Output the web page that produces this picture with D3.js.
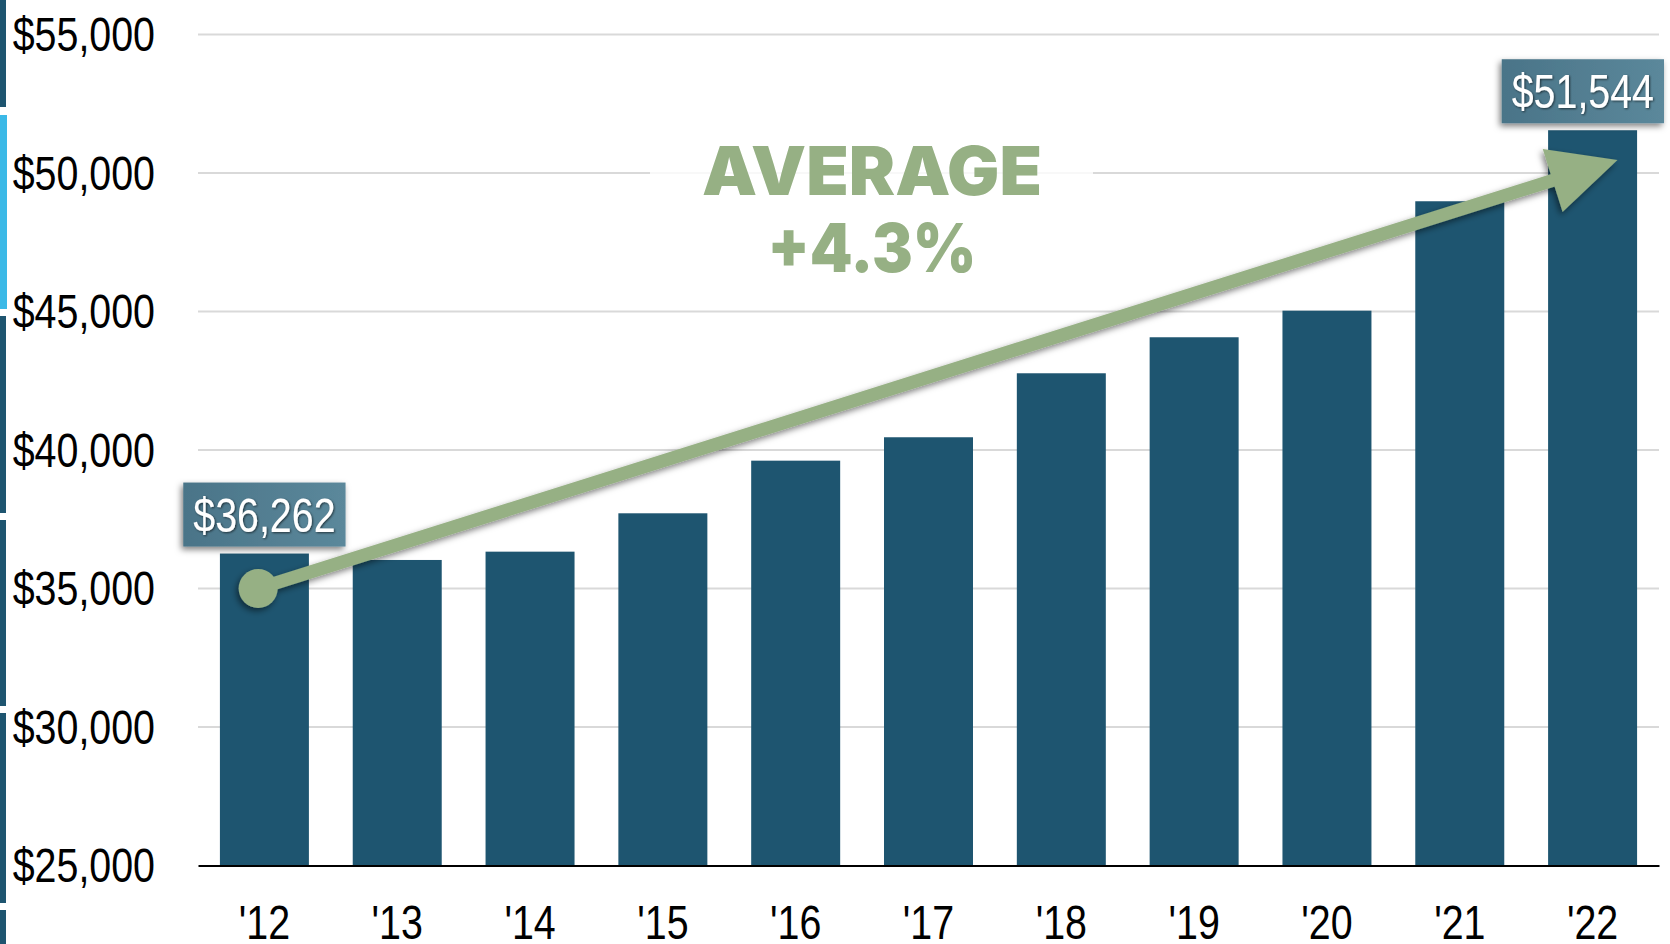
<!DOCTYPE html>
<html>
<head>
<meta charset="utf-8">
<script src="https://cdn.jsdelivr.net/npm/d3@7"></script>
<style>
  html, body { margin: 0; padding: 0; background: #fff; }
  svg { display: block; }
</style>
</head>
<body>
<svg id="chart" width="1670" height="944"></svg>
<script>
// median household income by year
var years = ["'12", "'13", "'14", "'15", "'16", "'17", "'18", "'19", "'20", "'21", "'22"];
var incomes = [36262, 36030, 36330, 37715, 39615, 40460, 42770, 44070, 45030, 48980, 51544];
var yTicks = [25000, 30000, 35000, 40000, 45000, 50000, 55000];
var calloutYears = ["'12", "'22"];
var avgLines = ["AVERAGE", "+4.3%"];

var W = 1670, H = 944;
var svg = d3.select("#chart");
var narrow = "'Liberation Sans Narrow', 'Arial Narrow', 'Liberation Sans', Arial, sans-serif";

// no narrow face installed, so squeeze the regular one
function condense(sel) {
    sel.each(function () {
        var w = this.getComputedTextLength();
        d3.select(this)
            .attr("textLength", w * 0.82)
            .attr("lengthAdjust", "spacingAndGlyphs");
    });
}

var x = d3.scaleBand()
    .domain(years)
    .range([198, 1659])
    .paddingInner(0.33)
    .paddingOuter(0.165);

var y = d3.scaleLinear()
    .domain([25000, 55000])
    .range([865.5, 34.5]);

var fmt = d3.format("$,");

// filters
var defs = svg.append("defs");
var sh = defs.append("filter").attr("id", "shadow")
    .attr("x", "-20%").attr("y", "-40%").attr("width", "140%").attr("height", "180%");
sh.append("feDropShadow").attr("dx", -2).attr("dy", 3).attr("stdDeviation", 3)
    .attr("flood-color", "#000").attr("flood-opacity", 0.5);
var tsh = defs.append("filter").attr("id", "tshadow");
tsh.append("feDropShadow").attr("dx", 1).attr("dy", 1).attr("stdDeviation", 1)
    .attr("flood-color", "#000").attr("flood-opacity", 0.6);
var grad = defs.append("linearGradient").attr("id", "boxgrad");
grad.append("stop").attr("offset", "0%").attr("stop-color", "#4a7488");
grad.append("stop").attr("offset", "100%").attr("stop-color", "#5b889b");

// slide edge strip on the left
var strip = [
    {y0: 0, y1: 107, c: "#1e5570"},
    {y0: 115, y1: 309, c: "#3bb9e7"},
    {y0: 316, y1: 513, c: "#1e5570"},
    {y0: 520, y1: 706, c: "#1e5570"},
    {y0: 713, y1: 903, c: "#1e5570"},
    {y0: 910, y1: 944, c: "#1e5570"}
];
svg.append("g").selectAll("rect")
    .data(strip)
    .enter()
    .append("rect")
    .attr("x", 0)
    .attr("width", function (d) { return d.c == "#3bb9e7" ? 7 : 6; })
    .attr("y", function (d) { return d.y0; })
    .attr("height", function (d) { return d.y1 - d.y0; })
    .attr("fill", function (d) { return d.c; });

// gridlines
svg.append("g")
    .selectAll("line")
    .data(yTicks.slice(1))
    .enter()
    .append("line")
    .attr("x1", 198).attr("x2", 1659)
    .attr("y1", function (d) { return y(d); })
    .attr("y2", function (d) { return y(d); })
    .attr("stroke", "#d9d9d9")
    .attr("stroke-width", 2);

// y axis labels
var yAxis = svg.append("g")
    .attr("transform", "translate(198,0)")
    .call(d3.axisLeft(y).tickValues(yTicks).tickFormat(fmt).tickSize(0).tickPadding(43));
yAxis.select(".domain").remove();
yAxis.selectAll("text")
    .attr("font-family", narrow)
    .attr("font-size", 48)
    .attr("fill", "#000")
    .attr("dy", "0.34em")
    .call(condense);

// bars
svg.append("g")
    .selectAll("rect")
    .data(incomes)
    .enter()
    .append("rect")
    .attr("x", function (d, i) { return x(years[i]); })
    .attr("width", x.bandwidth())
    .attr("y", function (d) { return y(d); })
    .attr("height", function (d) { return y(25000) - y(d); })
    .attr("fill", "#1e5570");

// baseline + x labels
var xAxis = svg.append("g")
    .attr("transform", "translate(0," + y(25000) + ")")
    .call(d3.axisBottom(x).tickSize(0));
xAxis.select(".domain")
    .attr("stroke", "#000")
    .attr("stroke-width", 2);
xAxis.selectAll("text")
    .attr("font-family", narrow)
    .attr("font-size", 48)
    .attr("fill", "#000")
    .attr("y", 73)
    .attr("dy", 0)
    .call(condense);

// average annotation
var cx = 872;
svg.append("rect")
    .attr("x", 650).attr("y", 140)
    .attr("width", 443).attr("height", 150)
    .attr("fill", "#fff")
    .attr("opacity", 0.8);
svg.append("g")
    .selectAll("text")
    .data(avgLines)
    .enter()
    .append("text")
    .attr("x", cx)
    .attr("y", function (d, i) { return 195 + i * 77; })
    .attr("text-anchor", "middle")
    .attr("font-family", "'Arial Black', Inter, Roboto, 'Liberation Sans', sans-serif")
    .attr("font-weight", 900)
    .attr("font-size", 67)
    .attr("fill", "#96b084")
    .attr("textLength", function (d, i) { return i == 0 ? 340 : 209; })
    .attr("lengthAdjust", "spacingAndGlyphs")
    .text(function (d) { return d; });

// trend arrow
var p0 = [x("'12") + x.bandwidth() * 0.43, y(35000)];
var tip = [x("'22") + x.bandwidth() * 0.78, y(50470)];
var dx = tip[0] - p0[0], dy = tip[1] - p0[1];
var len = Math.sqrt(dx * dx + dy * dy);
var ux = dx / len, uy = dy / len;
var headLen = 68, headHalf = 33;
var base = [tip[0] - ux * headLen, tip[1] - uy * headLen];
var arrow = svg.append("g").attr("filter", "url(#shadow)");
arrow.append("line")
    .attr("x1", p0[0]).attr("y1", p0[1])
    .attr("x2", base[0] + ux * 8).attr("y2", base[1] + uy * 8)
    .attr("stroke", "#96b084")
    .attr("stroke-width", 13);
arrow.append("polygon")
    .attr("points", [
        tip,
        [base[0] - uy * headHalf, base[1] + ux * headHalf],
        [base[0] + uy * headHalf, base[1] - ux * headHalf]
    ].map(function (p) { return p.join(","); }).join(" "))
    .attr("fill", "#96b084");
arrow.append("circle")
    .attr("cx", p0[0]).attr("cy", p0[1])
    .attr("r", 19.5)
    .attr("fill", "#96b084");

// callout boxes
calloutYears.forEach(function (yr) {
    var v = incomes[years.indexOf(yr)];
    var g = svg.append("g");
    var t = g.append("text")
        .attr("font-family", narrow)
        .attr("font-size", 48)
        .attr("fill", "#fff")
        .attr("text-anchor", "middle")
        .attr("filter", "url(#tshadow)")
        .text(fmt(v))
        .call(condense);
    var tw = +t.attr("textLength");
    var bw = tw + 20, bh = 64;
    var c = x(yr) + x.bandwidth() / 2;
    var bx = Math.min(c - bw / 2, 1664 - bw);
    var by = y(v) - 7 - bh;
    g.insert("rect", "text")
        .attr("x", bx).attr("y", by)
        .attr("width", bw).attr("height", bh)
        .attr("fill", "url(#boxgrad)")
        .attr("filter", "url(#shadow)");
    t.attr("x", bx + bw / 2).attr("y", by + 49);
});
</script>
</body>
</html>
